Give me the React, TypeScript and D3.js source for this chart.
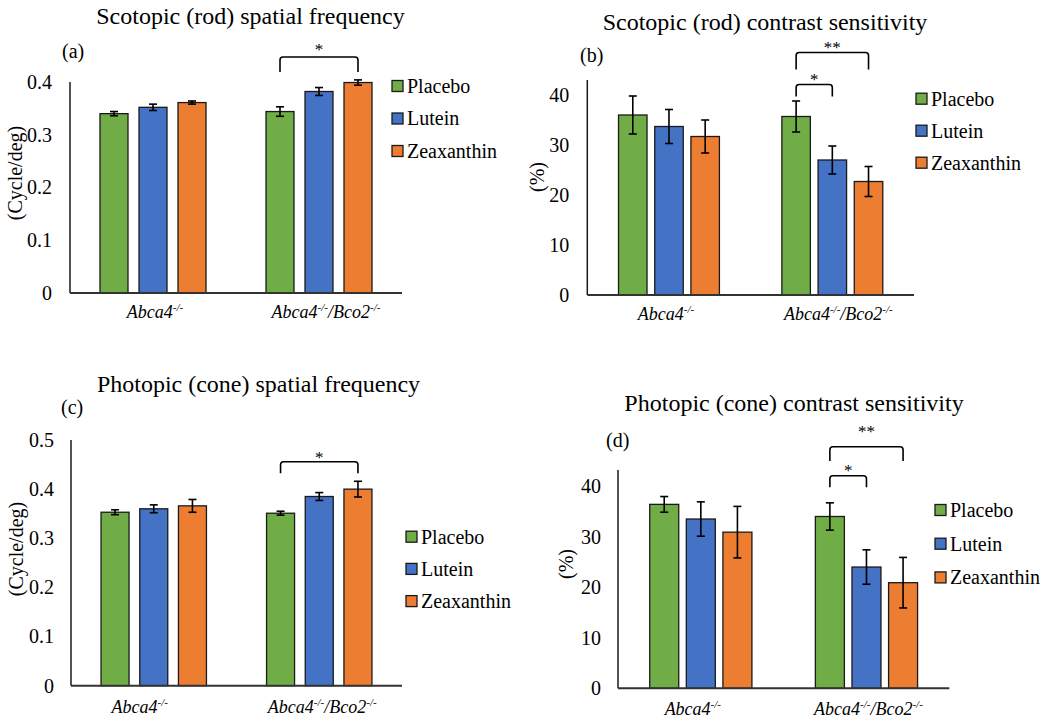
import React from "react";
import * as d3 from "d3";

// ---------- data ----------
const series = ["Placebo", "Lutein", "Zeaxanthin"];
const seriesColors = ["#70AD47", "#4472C4", "#ED7D31"];
// category labels as [text, superscript] segments
const categoryLabels: [string, string][][] = [
  [["Abca4", "-/-"]],
  [["Abca4", "-/-"], ["/Bco2", "-/-"]],
];

// [category][series]
const rodSpatialMean = [[0.340, 0.352, 0.361], [0.344, 0.382, 0.399]];
const rodSpatialErr = [[0.004, 0.006, 0.003], [0.009, 0.0075, 0.005]];
const rodContrastMean = [[36.0, 33.7, 31.7], [35.7, 27.0, 22.7]];
const rodContrastErr = [[3.8, 3.4, 3.3], [3.1, 2.8, 3.0]];
const coneSpatialMean = [[0.353, 0.360, 0.366], [0.351, 0.385, 0.400]];
const coneSpatialErr = [[0.005, 0.008, 0.013], [0.004, 0.008, 0.016]];
const coneContrastMean = [[36.4, 33.5, 30.9], [34.0, 24.0, 20.9]];
const coneContrastErr = [[1.55, 3.4, 5.1], [2.7, 3.4, 5.0]];

const spatialTicks = [0, 0.1, 0.2, 0.3, 0.4];
const spatialTicksCone = [0, 0.1, 0.2, 0.3, 0.4, 0.5];
const contrastTicks = [0, 10, 20, 30, 40];

type Sig = { cat: number; from: number; to: number; text: string; top: number; bottom: number; starY: number };

const FONT = "'Liberation Serif', 'Times New Roman', serif";

type Panel = {
  title: string; titleX: number; titleY: number;
  tag: string; tagX: number; tagY: number;
  means: number[][]; errs: number[][]; ticks: number[];
  domainMax: number; y0: number; yTop: number;
  x0: number; x1: number; barW: number; gap: number;
  yTitle: string; yTitleX: number; yTitleY: number; tickGap: number;
  catDy: number; catDx: number[];
  legX: number; legY: number; legStep: number;
  sigs: Sig[];
  fmt: (v: number) => string;
};

const fmtDec = (v: number) => (v === 0 ? "0" : d3.format(".1f")(v));
const fmtInt = (v: number) => d3.format("d")(v);

const panels: Panel[] = [
  {
    title: "Scotopic (rod) spatial frequency", titleX: 250.5, titleY: 24,
    tag: "(a)", tagX: 62, tagY: 58,
    means: rodSpatialMean, errs: rodSpatialErr, ticks: spatialTicks,
    domainMax: 0.4, y0: 293, yTop: 82, x0: 70, x1: 402, barW: 28, gap: 11,
    yTitle: "(Cycle/deg)", yTitleX: 15, yTitleY: 173, tickGap: 18,
    catDy: 25, catDx: [2, 7],
    legX: 392, legY: 86, legStep: 32.5,
    sigs: [{ cat: 1, from: 0, to: 2, text: "*", top: 57, bottom: 72, starY: 47 }],
    fmt: fmtDec,
  },
  {
    title: "Scotopic (rod) contrast sensitivity", titleX: 765, titleY: 30,
    tag: "(b)", tagX: 580, tagY: 62,
    means: rodContrastMean, errs: rodContrastErr, ticks: contrastTicks,
    domainMax: 43, y0: 295, yTop: 80, x0: 587.3, x1: 914, barW: 28.5, gap: 7.7,
    yTitle: "(%)", yTitleX: 536.7, yTitleY: 177, tickGap: 18,
    catDy: 25, catDx: [-3, 6],
    legX: 916, legY: 98.7, legStep: 32,
    sigs: [
      { cat: 1, from: 0, to: 2, text: "**", top: 52.5, bottom: 69.5, starY: 45.5 },
      { cat: 1, from: 0, to: 1, text: "*", top: 84.5, bottom: 96.5, starY: 77.5 },
    ],
    fmt: fmtInt,
  },
  {
    title: "Photopic (cone) spatial frequency", titleX: 258.5, titleY: 391.7,
    tag: "(c)", tagX: 61, tagY: 414,
    means: coneSpatialMean, errs: coneSpatialErr, ticks: spatialTicksCone,
    domainMax: 0.5, y0: 685.7, yTop: 440, x0: 71, x1: 402, barW: 28, gap: 10.7,
    yTitle: "(Cycle/deg)", yTitleX: 16, yTitleY: 549, tickGap: 17,
    catDy: 27, catDx: [-14, 3],
    legX: 406, legY: 536.7, legStep: 32.2,
    sigs: [{ cat: 1, from: 0, to: 2, text: "*", top: 461.7, bottom: 473.3, starY: 455.5 }],
    fmt: fmtDec,
  },
  {
    title: "Photopic (cone) contrast sensitivity", titleX: 794, titleY: 410.7,
    tag: "(d)", tagX: 606, tagY: 447,
    means: coneContrastMean, errs: coneContrastErr, ticks: contrastTicks,
    domainMax: 43.2, y0: 688.3, yTop: 470, x0: 618, x1: 949.3, barW: 29, gap: 7.6,
    yTitle: "(%)", yTitleX: 566, yTitleY: 564, tickGap: 17,
    catDy: 27, catDx: [-8, 2],
    legX: 935, legY: 510, legStep: 33.7,
    sigs: [
      { cat: 1, from: 0, to: 2, text: "**", top: 446.7, bottom: 461, starY: 429 },
      { cat: 1, from: 0, to: 1, text: "*", top: 475.7, bottom: 487.3, starY: 468.3 },
    ],
    fmt: fmtInt,
  },
];

function bracketPath(xl: number, xr: number, top: number, bottom: number) {
  const r = 3;
  return `M${xl},${bottom} L${xl},${top + r} Q${xl},${top} ${xl + r},${top} L${xr - r},${top} Q${xr},${top} ${xr},${top + r} L${xr},${bottom}`;
}

function PanelView({ p }: { p: Panel }) {
  const y = d3.scaleLinear().domain([0, p.domainMax]).range([p.y0, p.yTop]);
  const xCat = d3.scaleBand<number>().domain(categoryLabels.map((_, i) => i)).range([p.x0, p.x1]).padding(0);
  const groupW = series.length * p.barW + (series.length - 1) * p.gap;
  const pin = p.gap / (p.barW + p.gap);
  const inner = d3.scaleBand<number>().domain(series.map((_, i) => i)).range([-groupW / 2, groupW / 2]).paddingInner(pin).paddingOuter(0);
  const cx = (c: number) => (xCat(c) as number) + xCat.bandwidth() / 2;
  const barCenter = (c: number, s: number) => cx(c) + (inner(s) as number) + inner.bandwidth() / 2;

  return (
    <g>
      <text x={p.titleX} y={p.titleY} textAnchor="middle" fontSize={24} fill="#000">{p.title}</text>
      <text x={p.tagX} y={p.tagY} fontSize={20} fill="#000">{p.tag}</text>
      {p.ticks.map((t) => (
        <text key={t} x={p.x0 - p.tickGap} y={y(t)} dy="0.34em" textAnchor="end" fontSize={20} fill="#000">{p.fmt(t)}</text>
      ))}
      <text transform={`translate(${p.yTitleX},${p.yTitleY}) rotate(-90)`} textAnchor="middle" dy="0.34em" fontSize={20} fill="#000">{p.yTitle}</text>
      {p.means.map((row, c) =>
        row.map((v, s) => (
          <rect key={`${c}-${s}`} x={cx(c) + (inner(s) as number)} y={y(v)} width={inner.bandwidth()} height={y(0) - y(v)}
            fill={seriesColors[s]} stroke="#1a1a1a" strokeWidth={1.3} />
        ))
      )}
      {p.means.map((row, c) =>
        row.map((v, s) => {
          const bx = barCenter(c, s);
          const e = p.errs[c][s];
          const yt = y(v + e), yb = y(v - e);
          return (
            <g key={`e${c}-${s}`} stroke="#000" strokeWidth={1.6}>
              <line x1={bx} x2={bx} y1={yt} y2={yb} />
              <line x1={bx - 4} x2={bx + 4} y1={yt} y2={yt} />
              <line x1={bx - 4} x2={bx + 4} y1={yb} y2={yb} />
            </g>
          );
        })
      )}
      <line x1={p.x0} x2={p.x0} y1={p.yTop} y2={p.y0} stroke="#1a1a1a" strokeWidth={1.5} />
      <line x1={p.x0} x2={p.x1} y1={p.y0} y2={p.y0} stroke="#333" strokeWidth={2} />
      {categoryLabels.map((segs, c) => (
        <text key={c} x={cx(c) + p.catDx[c]} y={p.y0 + p.catDy} textAnchor="middle" fontSize={18} fontStyle="italic" fill="#000">
          {segs.flatMap(([t, sup], i) => [
            <tspan key={`t${i}`} fontSize={18} dy={i === 0 ? 0 : 7}>{t}</tspan>,
            <tspan key={`s${i}`} fontSize={11} dy={-7}>{sup}</tspan>,
          ])}
        </text>
      ))}
      {p.sigs.map((sg, i) => {
        const xl = barCenter(sg.cat, sg.from), xr = barCenter(sg.cat, sg.to);
        return (
          <g key={i}>
            <path d={bracketPath(xl, xr, sg.top, sg.bottom)} fill="none" stroke="#000" strokeWidth={1.6} />
            <text x={(xl + xr) / 2} y={sg.starY} dy="0.45em" textAnchor="middle" fontSize={17} fill="#000">{sg.text}</text>
          </g>
        );
      })}
      {series.map((name, s) => (
        <g key={name}>
          <rect x={p.legX} y={p.legY + s * p.legStep - 5.5} width={11} height={11} fill={seriesColors[s]} stroke="#1a1a1a" strokeWidth={1.3} />
          <text x={p.legX + 15} y={p.legY + s * p.legStep} dy="0.34em" fontSize={20} fill="#000">{name}</text>
        </g>
      ))}
    </g>
  );
}

export default function App() {
  return (
    <svg width={1050} height={722} style={{ position: "absolute", left: 0, top: 0, background: "#fff" }} fontFamily={FONT}>
      <rect width={1050} height={722} fill="#fff" />
      {panels.map((p, i) => (
        <PanelView key={i} p={p} />
      ))}
    </svg>
  );
}
